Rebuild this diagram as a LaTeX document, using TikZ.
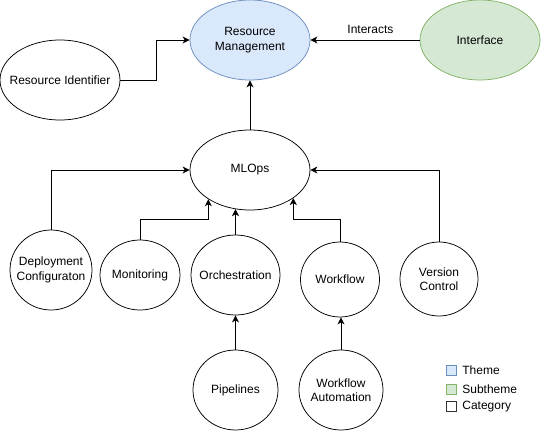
\documentclass[tikz,border=0pt]{standalone}
\usepackage{fontspec}
\setmainfont{Liberation Sans}
\usepackage{tikz}
\usetikzlibrary{arrows.meta,shapes.geometric,positioning}
\definecolor{themefill}{HTML}{DAE8FC}
\definecolor{themedraw}{HTML}{6C8EBF}
\definecolor{subfill}{HTML}{D5E8D4}
\definecolor{subdraw}{HTML}{82B366}

\begin{document}
\begin{tikzpicture}[x=1pt, y=-1pt, font=\fontsize{12}{14.4}\selectfont,
  topic/.style={ellipse, draw, line width=0.75pt, inner sep=-10pt, align=center},
  conn/.style={line width=0.9pt, -{Stealth[length=7pt,width=7pt,inset=2pt]}},
  legbox/.style={draw, line width=0.9pt, minimum size=10pt, inner sep=0pt},
  legtxt/.style={inner sep=0pt}]
\useasboundingbox (0,0) rectangle (541,431);

% Drawing theme and subtheme
\node[topic, fill=themefill, draw=themedraw, minimum width=120pt, minimum height=80pt] (rm) at (250,40) {Resource\\Management};
\node[topic, fill=subfill, draw=subdraw, minimum width=120pt, minimum height=80pt] (intf) at (480,40) {Interface};
\node[topic, minimum width=120pt, minimum height=80pt] (rid) at (60,80) {Resource Identifier};
\node[topic, minimum width=120pt, minimum height=80pt] (ml) at (250,170) {MLOps};

% Drawing categories
\node[topic, minimum width=82pt, minimum height=80pt] (dep) at (51,270) {Deployment\\Configuraton};
\node[topic, minimum width=80pt, minimum height=70pt] (mon) at (140,275) {Monitoring};
\node[topic, minimum width=89pt, minimum height=80pt] (orc) at (235.5,275) {Orchestration};
\node[topic, minimum width=79pt, minimum height=75pt] (wf) at (340,279.5) {Workflow};
\node[topic, minimum width=78pt, minimum height=74pt] (ver) at (439,279) {Version\\Control};
\node[topic, minimum width=85pt, minimum height=80pt] (pip) at (235.5,390) {Pipelines};
\node[topic, minimum width=84pt, minimum height=80pt] (wfa) at (341,390) {Workflow\\Automation};

% Drawing connectors
\draw[conn] (rid.east) -- ++(35.7,0) |- (rm.west);
\draw[conn] (intf.west) -- node[legtxt, above=6pt, pos=0.45] (lint) {Interacts} (rm.east);
\draw[conn] (ml.north) -- (rm.south);
\draw[conn] (dep.north) |- (ml.west);
\draw[conn] (mon.north) -- ++(0,-20) -| (ml.215);
\draw[conn] (orc.north) -- (orc.north |- ml.250);
\draw[conn] (wf.north) -- ++(0,-22) -| (ml.-33);
\draw[conn] (ver.north) |- (ml.east);
\draw[conn] (pip.north) -- (pip.north |- orc.south);
\draw[conn] (wfa.north) -- (wfa.north |- wf.south);

% Drawing legend
\node[legbox, fill=themefill, draw=themedraw] (lgthm) at (451.7,370) {};
\node[legtxt, right=5pt of lgthm] (lgthmt) {Theme};
\node[legbox, fill=subfill, draw=subdraw] (lgsub) at (451.7,389) {};
\node[legtxt, right=5pt of lgsub] (lgsubt) {Subtheme};
\node[legbox, draw=black!80] (lgcat) at (451.7,406.7) {};
\node[legtxt, right=5pt of lgcat] (lgcatt) {Category};
\end{tikzpicture}
\end{document}
